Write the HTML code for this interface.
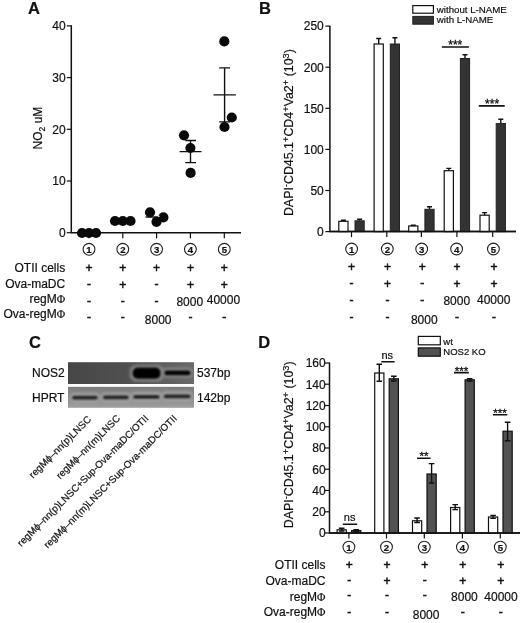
<!DOCTYPE html>
<html><head><meta charset="utf-8"><title>Figure</title>
<style>
html,body{margin:0;padding:0;background:#fff;}
svg{display:block;font-family:"Liberation Sans",Arial,sans-serif;fill:#111;filter:blur(0.35px)}
text{stroke:#111;stroke-width:0.2px}
.t12{font-size:12px}
.ax{stroke:#111;stroke-width:1.5;fill:none}
.tk{stroke:#111;stroke-width:1.2;fill:none}
.eb{stroke:#111;stroke-width:1.4;fill:none}
.sig{stroke:#111;stroke-width:1.6;fill:none}
.wb{fill:#fff;stroke:#111;stroke-width:1.2}
.db{fill:#333;stroke:#222;stroke-width:1}
.dd{fill:#525252;stroke:#111;stroke-width:1.2}
.pl{font-size:16.5px;font-weight:bold}
.cn{font-size:9.6px;font-weight:bold;text-anchor:middle}
.cc{fill:#fff;stroke:#222;stroke-width:1.1}
.sym{font-size:12px;text-anchor:middle;stroke:#111;stroke-width:0.5}
.num{font-size:12px;text-anchor:middle}
.rl{font-size:12px;text-anchor:end}
.yl{font-size:12px;text-anchor:end}
.lg{font-size:9.7px}
.rot{font-size:9.9px;text-anchor:end}
.st{font-size:12px;text-anchor:middle;stroke:#111;stroke-width:0.3}
</style></head><body>
<svg width="520" height="623" viewBox="0 0 520 623">
<defs>
<filter id="b1" x="-20%" y="-50%" width="140%" height="200%"><feGaussianBlur stdDeviation="0.9"/></filter>
<filter id="b2" x="-20%" y="-50%" width="140%" height="200%"><feGaussianBlur stdDeviation="1.6"/></filter>
<linearGradient id="g1" x1="0" x2="1" y1="0" y2="0"><stop offset="0" stop-color="#474747"/><stop offset="0.5" stop-color="#505050"/><stop offset="1" stop-color="#6a6a6a"/></linearGradient>
<linearGradient id="g2" x1="0" x2="0" y1="0" y2="1"><stop offset="0" stop-color="#7c7c7c"/><stop offset="0.6" stop-color="#8c8c8c"/><stop offset="1" stop-color="#a0a0a0"/></linearGradient>
</defs>
<rect width="520" height="623" fill="#fff"/>

<text class="pl" x="28" y="13.5">A</text>
<path class="ax" d="M71.3 25.2V232.7H241"/>
<path class="tk" d="M66.8 232.7H71.3"/>
<text class="yl" x="65.7" y="237.0">0</text>
<path class="tk" d="M66.8 181.0H71.3"/>
<text class="yl" x="65.7" y="185.3">10</text>
<path class="tk" d="M66.8 129.3H71.3"/>
<text class="yl" x="65.7" y="133.6">20</text>
<path class="tk" d="M66.8 77.6H71.3"/>
<text class="yl" x="65.7" y="81.9">30</text>
<path class="tk" d="M66.8 25.9H71.3"/>
<text class="yl" x="65.7" y="30.2">40</text>
<path class="tk" d="M89 232.7V238.2"/>
<path class="tk" d="M122.8 232.7V238.2"/>
<path class="tk" d="M156.6 232.7V238.2"/>
<path class="tk" d="M190.4 232.7V238.2"/>
<path class="tk" d="M224.3 232.7V238.2"/>
<text class="t12" text-anchor="middle" transform="translate(42.3,128) rotate(-90)">NO<tspan font-size="8.5" dy="2.5">2</tspan><tspan dy="-2.5"> uM</tspan></text>
<path class="eb" d="M179.6 151.6H201.5M190.5 140.5V162.6M185.3 140.5H196M185.3 162.6H196"/>
<path class="eb" d="M213.5 94.9H235.9M224.6 67.9V121.9M219.2 67.9H230M219.2 121.9H230"/>
<path class="eb" d="M145.5 217H167.5"/>
<circle cx="82" cy="233" r="5.1" fill="#0a0a0a"/>
<circle cx="89" cy="233" r="5.1" fill="#0a0a0a"/>
<circle cx="96" cy="233" r="5.1" fill="#0a0a0a"/>
<circle cx="115" cy="221" r="5.1" fill="#0a0a0a"/>
<circle cx="122.8" cy="221" r="5.1" fill="#0a0a0a"/>
<circle cx="130.5" cy="221" r="5.1" fill="#0a0a0a"/>
<circle cx="150" cy="212.3" r="5.1" fill="#0a0a0a"/>
<circle cx="163.4" cy="217.4" r="5.1" fill="#0a0a0a"/>
<circle cx="156.5" cy="221.8" r="5.1" fill="#0a0a0a"/>
<circle cx="184" cy="135.3" r="5.1" fill="#0a0a0a"/>
<circle cx="190.4" cy="148" r="5.1" fill="#0a0a0a"/>
<circle cx="190.6" cy="172.9" r="5.1" fill="#0a0a0a"/>
<circle cx="224.3" cy="41.4" r="5.1" fill="#0a0a0a"/>
<circle cx="231.8" cy="117.5" r="5.1" fill="#0a0a0a"/>
<circle cx="224.5" cy="127" r="5.1" fill="#0a0a0a"/>
<path d="M155.6 215.2H157.2M158 216.3H159.6" stroke="#fff" stroke-width="1"/>
<circle class="cc" cx="89" cy="249.3" r="5.9"/><text class="cn" x="89" y="252.8">1</text>
<circle class="cc" cx="122.8" cy="249.3" r="5.9"/><text class="cn" x="122.8" y="252.8">2</text>
<circle class="cc" cx="156.6" cy="249.3" r="5.9"/><text class="cn" x="156.6" y="252.8">3</text>
<circle class="cc" cx="190.4" cy="249.3" r="5.9"/><text class="cn" x="190.4" y="252.8">4</text>
<circle class="cc" cx="224.3" cy="249.3" r="5.9"/><text class="cn" x="224.3" y="252.8">5</text>
<text class="rl" x="65.2" y="271.5">OTII cells</text>
<text class="rl" x="65.2" y="288">Ova-maDC</text>
<text class="rl" x="65.2" y="303">regM<tspan font-family="Liberation Serif,serif" font-size="11.5">Φ</tspan></text>
<text class="rl" x="65.2" y="317.5">Ova-regM<tspan font-family="Liberation Serif,serif" font-size="11.5">Φ</tspan></text>
<text class="sym" x="89" y="271.9">+</text>
<text class="sym" x="122.8" y="271.9">+</text>
<text class="sym" x="156.6" y="271.9">+</text>
<text class="sym" x="190.4" y="271.9">+</text>
<text class="sym" x="224.3" y="271.9">+</text>
<text class="sym" x="89" y="287.9">-</text>
<text class="sym" x="122.8" y="288.7">+</text>
<text class="sym" x="156.6" y="287.9">-</text>
<text class="sym" x="190.4" y="288.7">+</text>
<text class="sym" x="224.3" y="288.7">+</text>
<text class="sym" x="89" y="304.5">-</text>
<text class="sym" x="122.8" y="304.5">-</text>
<text class="sym" x="156.6" y="304.5">-</text>
<text class="sym" x="89" y="320.6">-</text>
<text class="sym" x="122.8" y="320.6">-</text>
<text class="sym" x="190.4" y="320.6">-</text>
<text class="sym" x="224.3" y="320.6">-</text>
<text class="num" x="189.8" y="305.5">8000</text>
<text class="num" x="223.4" y="304.3">40000</text>
<text class="num" x="158.2" y="323.7">8000</text>
<text class="pl" x="259" y="13.5">B</text>
<path class="ax" d="M329.9 25.7V231.6H516"/>
<path class="tk" d="M325.4 231.6H329.9"/>
<text class="yl" x="323.79999999999995" y="235.9">0</text>
<path class="tk" d="M325.4 190.5H329.9"/>
<text class="yl" x="323.79999999999995" y="194.8">50</text>
<path class="tk" d="M325.4 149.4H329.9"/>
<text class="yl" x="323.79999999999995" y="153.7">100</text>
<path class="tk" d="M325.4 108.3H329.9"/>
<text class="yl" x="323.79999999999995" y="112.6">150</text>
<path class="tk" d="M325.4 67.2H329.9"/>
<text class="yl" x="323.79999999999995" y="71.5">200</text>
<path class="tk" d="M325.4 26.1H329.9"/>
<text class="yl" x="323.79999999999995" y="30.4">250</text>
<path class="tk" d="M351.5 231.6V237.1"/>
<path class="tk" d="M386.8 231.6V237.1"/>
<path class="tk" d="M421.4 231.6V237.1"/>
<path class="tk" d="M456.9 231.6V237.1"/>
<path class="tk" d="M492.7 231.6V237.1"/>
<text font-size="12.4" text-anchor="middle" transform="translate(293.4,132.6) rotate(-90)">DAPI<tspan font-size="9.3" dy="-4.5">-</tspan><tspan dy="4.5">CD45.1</tspan><tspan font-size="9.3" dy="-4.5">+</tspan><tspan dy="4.5">CD4</tspan><tspan font-size="9.3" dy="-4.5">+</tspan><tspan dy="4.5">Va2</tspan><tspan font-size="9.3" dy="-4.5">+</tspan><tspan dy="4.5"> (10</tspan><tspan font-size="9.3" dy="-4.5">3</tspan><tspan dy="4.5">)</tspan></text>
<path class="eb" d="M343.4 221.3V220.3M340.9 220.3H345.9"/>
<path class="eb" d="M359.6 220.8V219.3M357.1 219.3H362.1"/>
<rect class="wb" x="338.8" y="221.3" width="9.2" height="10.3"/>
<rect class="db" x="355.0" y="220.8" width="9.2" height="10.8"/>
<path class="eb" d="M378.7 44V38.5M376.2 38.5H381.2"/>
<path class="eb" d="M394.90000000000003 44V37.8M392.40000000000003 37.8H397.40000000000003"/>
<rect class="wb" x="374.1" y="44" width="9.2" height="187.6"/>
<rect class="db" x="390.3" y="44" width="9.2" height="187.6"/>
<path class="eb" d="M413.29999999999995 226V225.2M410.79999999999995 225.2H415.79999999999995"/>
<path class="eb" d="M429.5 209.3V206.7M427.0 206.7H432.0"/>
<rect class="wb" x="408.7" y="226" width="9.2" height="5.6"/>
<rect class="db" x="424.9" y="209.3" width="9.2" height="22.3"/>
<path class="eb" d="M448.79999999999995 170.7V168.4M446.29999999999995 168.4H451.29999999999995"/>
<path class="eb" d="M465.0 58.5V54.8M462.5 54.8H467.5"/>
<rect class="wb" x="444.2" y="170.7" width="9.2" height="60.9"/>
<rect class="db" x="460.4" y="58.5" width="9.2" height="173.1"/>
<path class="eb" d="M484.59999999999997 215.2V212.6M482.09999999999997 212.6H487.09999999999997"/>
<path class="eb" d="M500.8 123.6V119.3M498.3 119.3H503.3"/>
<rect class="wb" x="480.0" y="215.2" width="9.2" height="16.4"/>
<rect class="db" x="496.2" y="123.6" width="9.2" height="108.0"/>
<path class="ax" d="M329.9 231.6H516"/>
<path class="sig" d="M441.8 47H468.9M478.8 105.9H504.7"/>
<text class="st" x="455.3" y="48.7">***</text><text class="st" x="492.1" y="108">***</text>
<rect class="wb" x="412.8" y="5.6" width="20.6" height="7.6"/><rect class="db" x="412.8" y="16.4" width="20.6" height="7.8"/>
<text class="lg" x="436.8" y="12.9">without L-NAME</text><text class="lg" x="436.8" y="23.4">with L-NAME</text>
<circle class="cc" cx="351.6" cy="249" r="5.9"/><text class="cn" x="351.6" y="252.5">1</text>
<circle class="cc" cx="387.3" cy="249" r="5.9"/><text class="cn" x="387.3" y="252.5">2</text>
<circle class="cc" cx="421.7" cy="249" r="5.9"/><text class="cn" x="421.7" y="252.5">3</text>
<circle class="cc" cx="456.6" cy="249" r="5.9"/><text class="cn" x="456.6" y="252.5">4</text>
<circle class="cc" cx="493.4" cy="249" r="5.9"/><text class="cn" x="493.4" y="252.5">5</text>
<text class="sym" x="351.6" y="271.3">+</text>
<text class="sym" x="387.4" y="271.3">+</text>
<text class="sym" x="422.2" y="271.3">+</text>
<text class="sym" x="457" y="271.3">+</text>
<text class="sym" x="493.9" y="271.3">+</text>
<text class="sym" x="351.6" y="286.7">-</text>
<text class="sym" x="387.4" y="287.5">+</text>
<text class="sym" x="422.2" y="286.7">-</text>
<text class="sym" x="457" y="287.5">+</text>
<text class="sym" x="493.9" y="287.5">+</text>
<text class="sym" x="351.6" y="304.1">-</text>
<text class="sym" x="387.4" y="304.1">-</text>
<text class="sym" x="422.2" y="304.1">-</text>
<text class="sym" x="351.6" y="321.3">-</text>
<text class="sym" x="387.4" y="321.3">-</text>
<text class="sym" x="457" y="321.3">-</text>
<text class="sym" x="493.9" y="321.3">-</text>
<text class="num" x="456.8" y="305.3">8000</text>
<text class="num" x="493.7" y="304.2">40000</text>
<text class="num" x="424.3" y="323.6">8000</text>
<text class="pl" x="29" y="347.7">C</text>
<text class="t12" x="32" y="377.3">NOS2</text><text class="t12" x="32" y="402.1">HPRT</text>
<text class="t12" x="197" y="377.3">537bp</text><text class="t12" x="197" y="402.1">142bp</text>
<rect x="68" y="362.2" width="126" height="21.8" fill="url(#g1)"/>
<rect x="68" y="386.8" width="126" height="21" fill="url(#g2)"/>
<rect x="130" y="365.2" width="33.5" height="16" rx="6" fill="#8a8a8a" filter="url(#b2)"/>
<rect x="132.6" y="367.6" width="28" height="11.2" rx="5" fill="#000" filter="url(#b1)"/>
<rect x="162.5" y="368" width="30" height="9.6" rx="4" fill="#8c8c8c" filter="url(#b2)"/>
<rect x="164.5" y="370.4" width="26" height="4.8" rx="2" fill="#050505" filter="url(#b1)"/>
<rect x="70.6" y="393.40000000000003" width="28.6" height="8.4" rx="3" fill="#adadad" filter="url(#b2)"/>
<rect x="72.1" y="395.70000000000005" width="25.6" height="3.8" rx="1.5" fill="#1c1c1c" filter="url(#b1)"/>
<rect x="101.5" y="393.2" width="28.7" height="8.4" rx="3" fill="#adadad" filter="url(#b2)"/>
<rect x="103" y="395.5" width="25.7" height="3.8" rx="1.5" fill="#1c1c1c" filter="url(#b1)"/>
<rect x="131.7" y="392.6" width="29.4" height="8.4" rx="3" fill="#adadad" filter="url(#b2)"/>
<rect x="133.2" y="394.90000000000003" width="26.4" height="3.8" rx="1.5" fill="#1c1c1c" filter="url(#b1)"/>
<rect x="162.2" y="392.1" width="29.9" height="8.4" rx="3" fill="#adadad" filter="url(#b2)"/>
<rect x="163.7" y="394.40000000000003" width="26.9" height="3.8" rx="1.5" fill="#1c1c1c" filter="url(#b1)"/>
<text class="rot" transform="translate(91.7,420) rotate(-45)">regMϕ–nn(p)LNSC</text>
<text class="rot" transform="translate(120.7,419) rotate(-45)">regMϕ–nn(m)LNSC</text>
<text class="rot" transform="translate(149.2,419) rotate(-45)">regMϕ–nn(p)LNSC+Sup-Ova-maDC/OTII</text>
<text class="rot" transform="translate(177.7,419) rotate(-45)">regMϕ–nn(m)LNSC+Sup-Ova-maDC/OTII</text>
<text class="pl" x="258.3" y="347.7">D</text>
<path class="ax" d="M329.5 362.5V533H520"/>
<path class="tk" d="M325.0 533.0H329.5"/>
<text class="yl" x="325.7" y="537.3">0</text>
<path class="tk" d="M325.0 511.8H329.5"/>
<text class="yl" x="325.7" y="516.0">20</text>
<path class="tk" d="M325.0 490.5H329.5"/>
<text class="yl" x="325.7" y="494.8">40</text>
<path class="tk" d="M325.0 469.2H329.5"/>
<text class="yl" x="325.7" y="473.6">60</text>
<path class="tk" d="M325.0 448.0H329.5"/>
<text class="yl" x="325.7" y="452.3">80</text>
<path class="tk" d="M325.0 426.8H329.5"/>
<text class="yl" x="325.7" y="431.1">100</text>
<path class="tk" d="M325.0 405.5H329.5"/>
<text class="yl" x="325.7" y="409.8">120</text>
<path class="tk" d="M325.0 384.2H329.5"/>
<text class="yl" x="325.7" y="388.6">140</text>
<path class="tk" d="M325.0 363.0H329.5"/>
<text class="yl" x="325.7" y="367.3">160</text>
<path class="tk" d="M348.9 533V538.5"/>
<path class="tk" d="M386.5 533V538.5"/>
<path class="tk" d="M424.3 533V538.5"/>
<path class="tk" d="M462.4 533V538.5"/>
<path class="tk" d="M500.3 533V538.5"/>
<text font-size="12.4" text-anchor="middle" transform="translate(293.2,444.8) rotate(-90)">DAPI<tspan font-size="9.3" dy="-4.5">-</tspan><tspan dy="4.5">CD45.1</tspan><tspan font-size="9.3" dy="-4.5">+</tspan><tspan dy="4.5">CD4</tspan><tspan font-size="9.3" dy="-4.5">+</tspan><tspan dy="4.5">Va2</tspan><tspan font-size="9.3" dy="-4.5">+</tspan><tspan dy="4.5"> (10</tspan><tspan font-size="9.3" dy="-4.5">3</tspan><tspan dy="4.5">)</tspan></text>
<rect class="wb" x="337.1" y="529.8" width="9.2" height="3.2"/>
<rect class="dd" x="351.6" y="530.6" width="9.2" height="2.4"/>
<path class="eb" d="M341.7 528.3V531M338.9 528.3H344.5M338.9 531H344.5"/>
<path class="eb" d="M356.2 529.6V531.5M353.4 529.6H359.0M353.4 531.5H359.0"/>
<rect class="wb" x="374.7" y="373" width="9.2" height="160.0"/>
<rect class="dd" x="389.2" y="378.8" width="9.2" height="154.2"/>
<path class="eb" d="M379.3 364.3V381.2M376.5 364.3H382.1M376.5 381.2H382.1"/>
<path class="eb" d="M393.8 376.3V381M391.0 376.3H396.6M391.0 381H396.6"/>
<rect class="wb" x="412.5" y="520.8" width="9.2" height="12.2"/>
<rect class="dd" x="427.0" y="474" width="9.2" height="59.0"/>
<path class="eb" d="M417.1 518V522.5M414.3 518H419.9M414.3 522.5H419.9"/>
<path class="eb" d="M431.6 463.6V483M428.8 463.6H434.4M428.8 483H434.4"/>
<rect class="wb" x="450.6" y="507.5" width="9.2" height="25.5"/>
<rect class="dd" x="465.1" y="379.8" width="9.2" height="153.2"/>
<path class="eb" d="M455.2 504.6V509.6M452.4 504.6H458.0M452.4 509.6H458.0"/>
<path class="eb" d="M469.7 378.6V381M466.9 378.6H472.5M466.9 381H472.5"/>
<rect class="wb" x="488.5" y="517" width="9.2" height="16.0"/>
<rect class="dd" x="503.0" y="431.2" width="9.2" height="101.8"/>
<path class="eb" d="M493.1 515.4V518.4M490.3 515.4H495.9M490.3 518.4H495.9"/>
<path class="eb" d="M507.6 422.2V440.7M504.8 422.2H510.4M504.8 440.7H510.4"/>
<path class="ax" d="M329.5 533H520"/>
<path class="sig" d="M342.8 524.2H357.2M381.3 361.7H394.6M417 458.2H430.6M454 372.6H468.8M492.9 414.8H507.3"/>
<text font-size="11" text-anchor="middle" x="349.6" y="521.3">ns</text><text font-size="11" text-anchor="middle" x="387.3" y="358.8">ns</text>
<text class="st" style="font-size:11.5px" x="424" y="460.3">**</text><text class="st" style="font-size:11.5px" x="461.5" y="375.3">***</text><text class="st" style="font-size:11.5px" x="500" y="416.9">***</text>
<rect class="wb" x="418.3" y="336.4" width="22" height="8.4"/><rect class="dd" x="418.3" y="347.9" width="22" height="8.3"/>
<text class="lg" x="443.3" y="344.8" style="font-size:9.5px">wt</text><text class="lg" x="443.3" y="355.3" style="font-size:9.5px">NOS2 KO</text>
<circle class="cc" cx="348.9" cy="547.1" r="5.9"/><text class="cn" x="348.9" y="550.6">1</text>
<circle class="cc" cx="386.5" cy="547.1" r="5.9"/><text class="cn" x="386.5" y="550.6">2</text>
<circle class="cc" cx="424.3" cy="547.1" r="5.9"/><text class="cn" x="424.3" y="550.6">3</text>
<circle class="cc" cx="462.4" cy="547.1" r="5.9"/><text class="cn" x="462.4" y="550.6">4</text>
<circle class="cc" cx="500.3" cy="547.1" r="5.9"/><text class="cn" x="500.3" y="550.6">5</text>
<text class="rl" x="325.5" y="568.8">OTII cells</text>
<text class="rl" x="325.5" y="585">Ova-maDC</text>
<text class="rl" x="325.5" y="600.5">regM<tspan font-family="Liberation Serif,serif" font-size="11.5">Φ</tspan></text>
<text class="rl" x="325.5" y="616">Ova-regM<tspan font-family="Liberation Serif,serif" font-size="11.5">Φ</tspan></text>
<text class="sym" x="349.29999999999995" y="568.6">+</text>
<text class="sym" x="386.9" y="568.6">+</text>
<text class="sym" x="424.7" y="568.6">+</text>
<text class="sym" x="462.79999999999995" y="568.6">+</text>
<text class="sym" x="500.7" y="568.6">+</text>
<text class="sym" x="349.29999999999995" y="583.7">-</text>
<text class="sym" x="386.9" y="584.5">+</text>
<text class="sym" x="424.7" y="583.7">-</text>
<text class="sym" x="462.79999999999995" y="584.5">+</text>
<text class="sym" x="500.7" y="584.5">+</text>
<text class="sym" x="349.29999999999995" y="599.1">-</text>
<text class="sym" x="386.9" y="599.1">-</text>
<text class="sym" x="424.7" y="599.1">-</text>
<text class="sym" x="349.29999999999995" y="616.3">-</text>
<text class="sym" x="386.9" y="616.3">-</text>
<text class="sym" x="462.79999999999995" y="616.3">-</text>
<text class="sym" x="500.7" y="616.3">-</text>
<text class="num" x="464.4" y="600.5">8000</text>
<text class="num" x="501" y="600.5">40000</text>
<text class="num" x="426.1" y="618.7">8000</text>
</svg></body></html>
